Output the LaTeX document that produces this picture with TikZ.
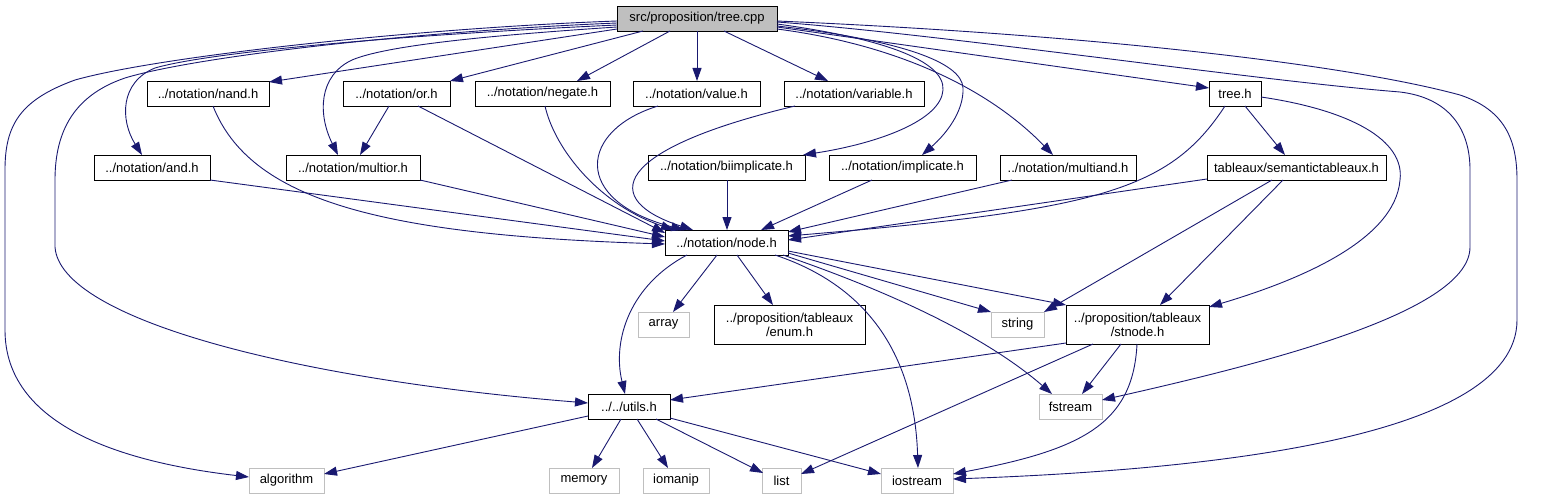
\documentclass[tikz,border=0pt]{standalone}
\usepackage{fontspec}
\setmainfont{Liberation Sans}
\usetikzlibrary{arrows.meta}
\definecolor{edgecol}{HTML}{191970}
\definecolor{extcol}{HTML}{BFBFBF}
\definecolor{rootfill}{HTML}{BFBFBF}
\begin{document}
\begin{tikzpicture}[x=1pt,y=-1pt,
  box/.style={draw=black,line width=0.9pt,fill=white,inner sep=0pt,outer sep=0pt,
    minimum height=25pt,font=\fontsize{13}{14}\selectfont,align=center,anchor=north west},
  extbox/.style={box,draw=extcol},
  e/.style={draw=edgecol,line width=0.9pt,-{Triangle[length=13pt,width=9pt]}}]
\useasboundingbox (0,0) rectangle (1552,500);
% nodes
\node[box,fill=rootfill,minimum width=160pt] (tcpp) at (617,6) {src/proposition/tree.cpp};
\node[box,minimum width=122pt] (nand) at (147,81) {../notation/nand.h};
\node[box,minimum width=107pt] (or) at (343,81) {../notation/or.h};
\node[box,minimum width=135pt] (neg) at (475,81) {../notation/negate.h};
\node[box,minimum width=127pt] (val) at (633,81) {../notation/value.h};
\node[box,minimum width=140pt] (var) at (784,81) {../notation/variable.h};
\node[box,minimum width=52pt] (treeh) at (1209,81) {tree.h};
\node[box,minimum width=116pt] (and) at (94,155) {../notation/and.h};
\node[box,minimum width=134pt] (mor) at (286,155) {../notation/multior.h};
\node[box,minimum width=157pt] (bii) at (648,155) {../notation/biimplicate.h};
\node[box,minimum width=147pt] (imp) at (829,155) {../notation/implicate.h};
\node[box,minimum width=136pt] (mand) at (1000,155) {../notation/multiand.h};
\node[box,minimum width=179pt] (sem) at (1207,155) {tableaux/semantictableaux.h};
\node[box,minimum width=123pt] (nodeh) at (665,230) {../notation/node.h};
\node[extbox,minimum width=51pt] (arr) at (638,312) {array};
\node[box,minimum width=151pt,minimum height=39pt] (enum) at (714,305) {../proposition/tableaux\\/enum.h};
\node[extbox,minimum width=53pt] (str) at (991,312) {string};
\node[box,minimum width=143pt,minimum height=39pt] (stn) at (1066,305) {../proposition/tableaux\\/stnode.h};
\node[box,minimum width=82pt] (utl) at (588,394) {../../utils.h};
\node[extbox,minimum width=63pt] (fst) at (1039,394) {fstream};
\node[extbox,minimum width=75pt] (alg) at (249,468) {algorithm};
\node[extbox,minimum width=70pt] (mem) at (549,468) {memory};
\node[extbox,minimum width=66pt] (ioma) at (643,468) {iomanip};
\node[extbox,minimum width=39pt] (lst) at (762,468) {list};
\node[extbox,minimum width=72pt] (ios) at (881,468) {iostream};
% edges from tree.cpp
\draw[e] ([shift={(0,15)}]tcpp.north west) .. controls (420,28) and (160,56) .. (75,80) .. controls (20,100) and (5,125) .. (5,170) -- (5,330) .. controls (5,425) and (120,462) .. ([shift={(0,9)}]alg.north west);
\draw[e] ([shift={(0,17)}]tcpp.north west) .. controls (400,32) and (190,58) .. (125,78) .. controls (75,95) and (55,130) .. (55,180) -- (55,247) .. controls (60,320) and (300,380) .. ([shift={(0,9)}]utl.north west);
\draw[e] ([shift={(0,19)}]tcpp.north west) .. controls (400,35) and (210,52) .. (155,68) .. controls (120,82) and (120,120) .. ([shift={(48,0)}]and.north west);
\draw[e] ([shift={(0,23)}]tcpp.north west) -- ([shift={(122,1)}]nand.north west);
\draw[e] ([shift={(0,21)}]tcpp.north west) .. controls (480,36) and (385,46) .. (352,60) .. controls (318,76) and (318,115) .. ([shift={(52,0)}]mor.north west);
\draw[e] ([shift={(26,25)}]tcpp.north west) -- ([shift={(107,0)}]or.north west);
\draw[e] ([shift={(53,25)}]tcpp.north west) -- ([shift={(102,0)}]neg.north west);
\draw[e] ([shift={(80,25)}]tcpp.north west) -- ([shift={(64,0)}]val.north west);
\draw[e] ([shift={(107,25)}]tcpp.north west) -- ([shift={(44,0)}]var.north west);
\draw[e] ([shift={(160,18)}]tcpp.north west) .. controls (880,38) and (945,60) .. (943,90) .. controls (941,120) and (880,143) .. ([shift={(155,0)}]bii.north west);
\draw[e] ([shift={(160,20)}]tcpp.north west) .. controls (900,40) and (962,62) .. (963,88) .. controls (964,112) and (945,135) .. ([shift={(93,0)}]imp.north west);
\draw[e] ([shift={(160,23)}]tcpp.north west) .. controls (900,45) and (990,90) .. ([shift={(53,0)}]mand.north west);
\draw[e] ([shift={(160,21)}]tcpp.north west) -- ([shift={(0,7)}]treeh.north west);
\draw[e] ([shift={(160,16)}]tcpp.north west) .. controls (950,35) and (1250,80) .. (1400,92) .. controls (1450,98) and (1470,130) .. (1470,170) -- (1470,247) .. controls (1470,310) and (1280,360) .. ([shift={(63,6)}]fst.north west);
\draw[e] ([shift={(160,15)}]tcpp.north west) .. controls (1100,35) and (1350,65) .. (1460,95) .. controls (1505,110) and (1517,140) .. (1517,180) -- (1517,320) .. controls (1517,440) and (1200,470) .. ([shift={(72,11)}]ios.north west);
% second layer
\draw[e] ([shift={(66,25)}]nand.north west) .. controls (250,200) and (380,235) .. ([shift={(0,14)}]nodeh.north west);
\draw[e] ([shift={(116,25)}]and.north west) -- ([shift={(0,11)}]nodeh.north west);
\draw[e] ([shift={(134,25)}]mor.north west) -- ([shift={(0,7)}]nodeh.north west);
\draw[e] ([shift={(46,25)}]or.north west) -- ([shift={(74,0)}]mor.north west);
\draw[e] ([shift={(75,25)}]or.north west) -- ([shift={(0,3)}]nodeh.north west);
\draw[e] ([shift={(70,25)}]neg.north west) .. controls (555,150) and (600,205) .. ([shift={(9,0)}]nodeh.north west);
\draw[e] ([shift={(25,25)}]val.north west) .. controls (580,130) and (570,200) .. ([shift={(19,0)}]nodeh.north west);
\draw[e] ([shift={(11,25)}]var.north west) .. controls (610,150) and (600,200) .. ([shift={(28,0)}]nodeh.north west);
\draw[e] ([shift={(79,25)}]bii.north west) -- ([shift={(62,0)}]nodeh.north west);
\draw[e] ([shift={(43,25)}]imp.north west) -- ([shift={(96,0)}]nodeh.north west);
\draw[e] ([shift={(12,25)}]mand.north west) -- ([shift={(123,2)}]nodeh.north west);
\draw[e] ([shift={(16,25)}]treeh.north west) .. controls (1170,190) and (1100,210) .. ([shift={(123,6)}]nodeh.north west);
\draw[e] ([shift={(0,24)}]sem.north west) -- ([shift={(123,10)}]nodeh.north west);
\draw[e] ([shift={(36,25)}]treeh.north west) -- ([shift={(78,0)}]sem.north west);
\draw[e] ([shift={(52,16)}]treeh.north west) .. controls (1350,110) and (1405,140) .. (1400,180) .. controls (1395,240) and (1300,280) .. ([shift={(143,2)}]stn.north west);
\draw[e] ([shift={(65,25)}]sem.north west) -- ([shift={(53,0)}]str.north west);
\draw[e] ([shift={(76,25)}]sem.north west) -- ([shift={(94,0)}]stn.north west);
% from node.h
\draw[e] ([shift={(22,25)}]nodeh.north west) .. controls (630,285) and (612,340) .. ([shift={(37,0)}]utl.north west);
\draw[e] ([shift={(52,25)}]nodeh.north west) -- ([shift={(35,0)}]arr.north west);
\draw[e] ([shift={(72,25)}]nodeh.north west) -- ([shift={(59,0)}]enum.north west);
\draw[e] ([shift={(110,25)}]nodeh.north west) .. controls (880,290) and (915,370) .. ([shift={(37,0)}]ios.north west);
\draw[e] ([shift={(123,23)}]nodeh.north west) -- (str.north west);
\draw[e] ([shift={(118,25)}]nodeh.north west) .. controls (900,295) and (990,340) .. ([shift={(13,0)}]fst.north west);
\draw[e] ([shift={(123,21)}]nodeh.north west) -- (stn.north west);
% from stnode.h
\draw[e] ([shift={(0,38)}]stn.north west) -- ([shift={(82,6)}]utl.north west);
\draw[e] ([shift={(27,39)}]stn.north west) -- ([shift={(39,6)}]lst.north west);
\draw[e] ([shift={(55,39)}]stn.north west) -- ([shift={(43,0)}]fst.north west);
\draw[e] ([shift={(71,39)}]stn.north west) .. controls (1133,425) and (1080,450) .. ([shift={(72,6)}]ios.north west);
% from utils.h
\draw[e] ([shift={(0,22)}]utl.north west) -- ([shift={(75,6)}]alg.north west);
\draw[e] ([shift={(33,25)}]utl.north west) -- ([shift={(43,0)}]mem.north west);
\draw[e] ([shift={(49,25)}]utl.north west) -- ([shift={(25,0)}]ioma.north west);
\draw[e] ([shift={(68,25)}]utl.north west) -- ([shift={(1,5)}]lst.north west);
\draw[e] ([shift={(82,24)}]utl.north west) -- ([shift={(0,6)}]ios.north west);
\end{tikzpicture}
\end{document}
